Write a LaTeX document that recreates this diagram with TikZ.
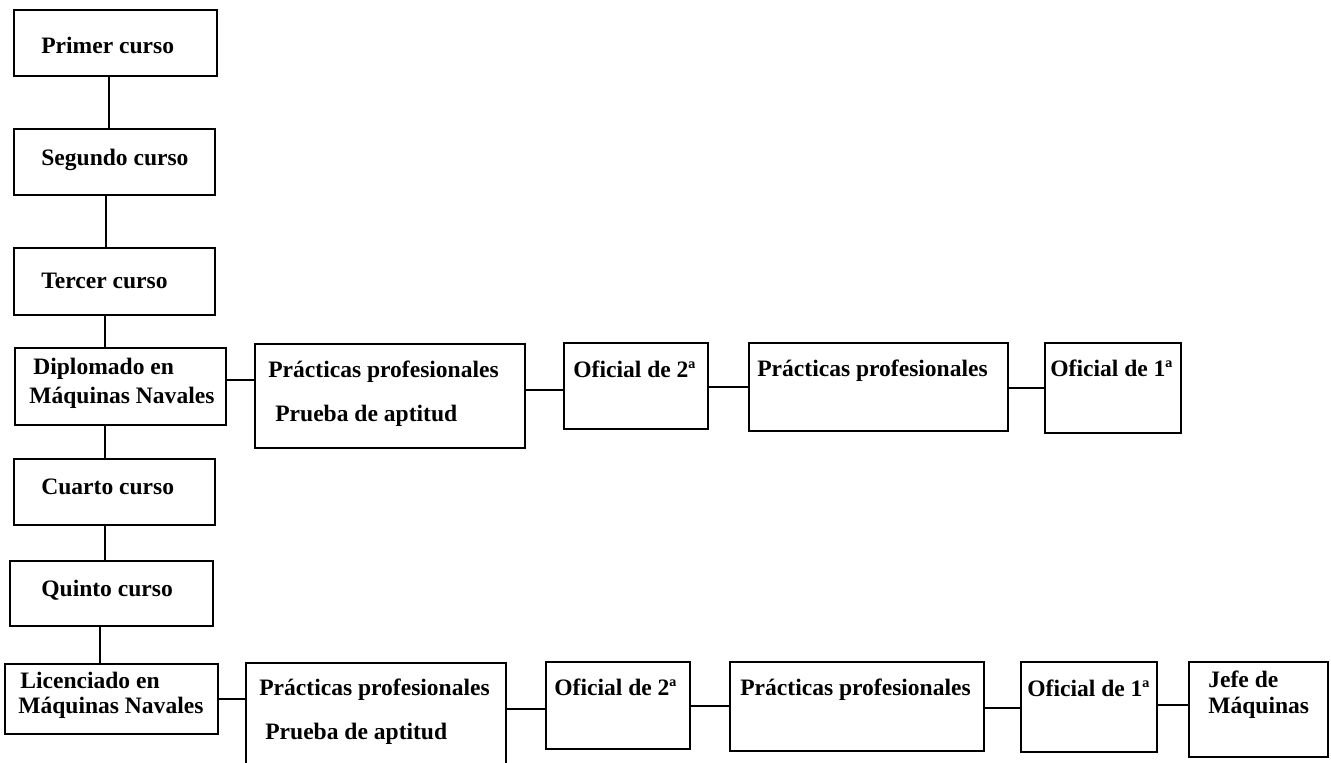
\documentclass[tikz,border=0pt]{standalone}
\usepackage{fontspec}
\setmainfont{Liberation Serif}
\usetikzlibrary{fit}
\tikzset{
  box/.style={draw=black, line width=0.8pt, inner sep=0pt, fill=none},
  lbl/.style={anchor=base west, inner sep=0pt, font=\bfseries\fontsize{13.4}{16}\selectfont},
  link/.style={draw=black, line width=0.8pt},
}
\begin{document}
\begin{tikzpicture}[x=0.02cm,y=-0.02cm]
\useasboundingbox (0,0) rectangle (1331,762);
% column boxes
\node[box, fit={(14,10)(217,76)}] (primer) {};
\node[box, fit={(14,129)(215,195)}] (segundo) {};
\node[box, fit={(14,248)(215,315)}] (tercer) {};
\node[box, fit={(15,348)(226,425)}] (dip) {};
\node[box, fit={(14,459)(215,525)}] (cuarto) {};
\node[box, fit={(10,561)(213,626)}] (quinto) {};
\node[box, fit={(5,664)(218,734)}] (lic) {};
% row 1
\node[box, fit={(255,344)(525,448)}] (p1) {};
\node[box, fit={(564,343)(708,429)}] (o2a) {};
\node[box, fit={(749,343)(1008,431)}] (p2) {};
\node[box, fit={(1045,343)(1181,433)}] (o1a) {};
% row 2
\node[box, fit={(246,663)(506,775)}] (p3) {};
\node[box, fit={(546,662)(690,749)}] (o2b) {};
\node[box, fit={(730,662)(984,751)}] (p4) {};
\node[box, fit={(1021,662)(1157,752)}] (o1b) {};
\node[box, fit={(1189,662)(1328,757)}] (jefe) {};
% texts
\node[lbl] (t-primer) at (41,53) {Primer curso};
\node[lbl] (t-segundo) at (41,165) {Segundo curso};
\node[lbl] (t-tercer) at (41,288) {Tercer curso};
\node[lbl] (t-dip1) at (33,374) {Diplomado en};
\node[lbl] (t-dip2) at (29,403) {Máquinas Navales};
\node[lbl] (t-cuarto) at (41,494) {Cuarto curso};
\node[lbl] (t-quinto) at (41,596) {Quinto curso};
\node[lbl] (t-lic1) at (20,688) {Licenciado en};
\node[lbl] (t-lic2) at (18,713) {Máquinas Navales};
\node[lbl] (t-p1a) at (268,377) {Prácticas profesionales};
\node[lbl] (t-p1b) at (275,421) {Prueba de aptitud};
\node[lbl] (t-o2a) at (573,377) {Oficial de 2ª};
\node[lbl] (t-p2) at (757,376) {Prácticas profesionales};
\node[lbl] (t-o1a) at (1050,376) {Oficial de 1ª};
\node[lbl] (t-p3a) at (259,695) {Prácticas profesionales};
\node[lbl] (t-p3b) at (265,739) {Prueba de aptitud};
\node[lbl] (t-o2b) at (554,695) {Oficial de 2ª};
\node[lbl] (t-p4) at (740,695) {Prácticas profesionales};
\node[lbl] (t-o1b) at (1027,696) {Oficial de 1ª};
\node[lbl] (t-jefe1) at (1208,687) {Jefe de};
\node[lbl] (t-jefe2) at (1208,713) {Máquinas};
% vertical connectors
\draw[link] (primer.south -| 109,0) -- (segundo.north -| 109,0);
\draw[link] (segundo.south -| 106,0) -- (tercer.north -| 106,0);
\draw[link] (tercer.south -| 105,0) -- (dip.north -| 105,0);
\draw[link] (dip.south -| 105,0) -- (cuarto.north -| 105,0);
\draw[link] (cuarto.south -| 105,0) -- (quinto.north -| 105,0);
\draw[link] (quinto.south -| 100,0) -- (lic.north -| 100,0);
% horizontal connectors row 1
\draw[link] (dip.east |- 0,380) -- (p1.west |- 0,380);
\draw[link] (p1.east |- 0,390) -- (o2a.west |- 0,390);
\draw[link] (o2a.east |- 0,387) -- (p2.west |- 0,387);
\draw[link] (p2.east |- 0,388) -- (o1a.west |- 0,388);
% row 2
\draw[link] (lic.east |- 0,699) -- (p3.west |- 0,699);
\draw[link] (p3.east |- 0,709) -- (o2b.west |- 0,709);
\draw[link] (o2b.east |- 0,706) -- (p4.west |- 0,706);
\draw[link] (p4.east |- 0,708) -- (o1b.west |- 0,708);
\draw[link] (o1b.east |- 0,705) -- (jefe.west |- 0,705);
\end{tikzpicture}
\end{document}
